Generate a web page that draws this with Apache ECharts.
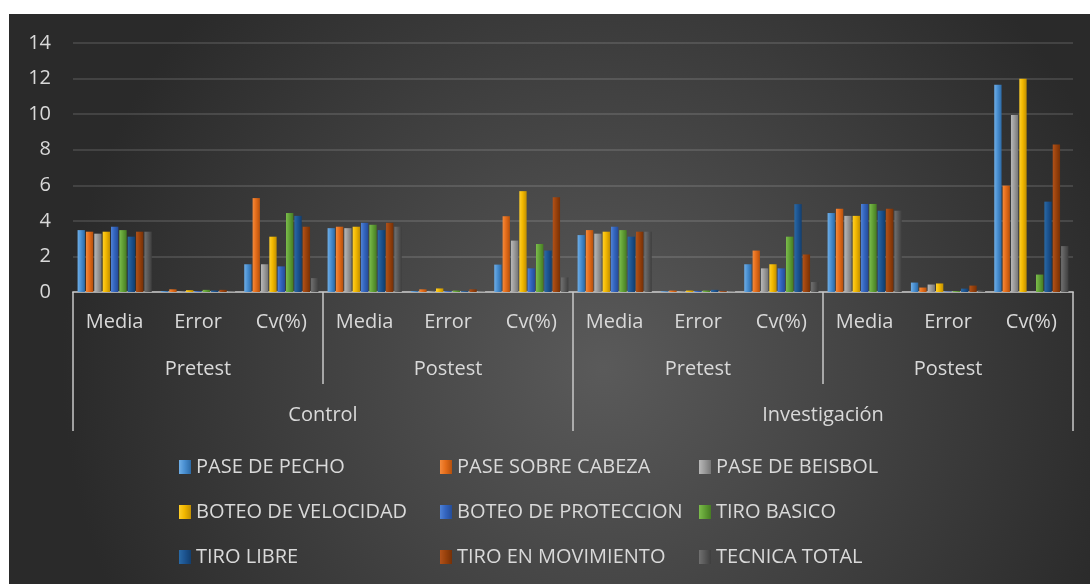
<!DOCTYPE html>
<html>
<head>
<meta charset="utf-8">
<script src="https://cdn.jsdelivr.net/npm/echarts@6/dist/echarts.min.js"></script>
<style>
  html, body { margin: 0; padding: 0; background: #fff; }
  #chart { position: absolute; left: 9px; top: 14px; width: 1081px; height: 570px; }
</style>
</head>
<body>
<div id="chart"></div>
<script>
// categories (three levels)
var categories = ['Media', 'Error', 'Cv(%)', 'Media', 'Error', 'Cv(%)', 'Media', 'Error', 'Cv(%)', 'Media', 'Error', 'Cv(%)'];
var phases = ['Pretest', 'Postest', 'Pretest', 'Postest'];
var groups = ['Control', 'Investigación'];

// series values
var pasePecho       = [3.48, 0.05, 1.56, 3.59, 0.05, 1.54, 3.20, 0.04, 1.56, 4.44, 0.53, 11.65];
var paseCabeza      = [3.39, 0.15, 5.28, 3.67, 0.15, 4.26, 3.48, 0.08, 2.33, 4.68, 0.25, 5.98];
var paseBeisbol     = [3.28, 0.05, 1.56, 3.59, 0.06, 2.89, 3.28, 0.05, 1.33, 4.28, 0.42, 9.95];
var boteoVelocidad  = [3.39, 0.10, 3.11, 3.67, 0.20, 5.67, 3.39, 0.08, 1.56, 4.28, 0.48, 11.99];
var boteoProteccion = [3.67, 0.05, 1.44, 3.89, 0.05, 1.33, 3.67, 0.06, 1.33, 4.95, 0.03, 0];
var tiroBasico      = [3.48, 0.12, 4.44, 3.78, 0.08, 2.70, 3.48, 0.08, 3.11, 4.95, 0.05, 0.98];
var tiroLibre       = [3.11, 0.08, 4.28, 3.48, 0.05, 2.33, 3.11, 0.12, 4.94, 4.57, 0.19, 5.08];
var tiroMovimiento  = [3.39, 0.12, 3.67, 3.89, 0.15, 5.33, 3.39, 0.05, 2.11, 4.68, 0.36, 8.30];
var tecnicaTotal    = [3.39, 0.03, 0.78, 3.67, 0.03, 0.82, 3.39, 0.03, 0.56, 4.57, 0.08, 2.58];

var yTicks = [0, 2, 4, 6, 8, 10, 12, 14];

var FONT = '"Open Sans", "Noto Sans", sans-serif';
var TXT = '#d9d9d9';

// bevel-ish fill: light edge on the left, dark on the right
function bevel(light, mid, dark) {
  return {
    type: 'linear', x: 0, y: 0, x2: 1, y2: 0,
    colorStops: [
      { offset: 0, color: light },
      { offset: 0.45, color: mid },
      { offset: 1, color: dark }
    ]
  };
}

var seriesDefs = [
  { name: 'PASE DE PECHO', data: pasePecho, c: bevel('#6faee6', '#4a90d2', '#2c6aa6') },
  { name: 'PASE SOBRE CABEZA', data: paseCabeza, c: bevel('#f48a3c', '#e56d1a', '#b5500c') },
  { name: 'PASE DE BEISBOL', data: paseBeisbol, c: bevel('#b8b8b8', '#9c9c9c', '#767676') },
  { name: 'BOTEO DE VELOCIDAD', data: boteoVelocidad, c: bevel('#ffcf2a', '#f2b800', '#c18f00') },
  { name: 'BOTEO DE PROTECCION', data: boteoProteccion, c: bevel('#4f82d6', '#3465bf', '#244c98') },
  { name: 'TIRO BASICO', data: tiroBasico, c: bevel('#7cbc4c', '#62a136', '#467c22') },
  { name: 'TIRO LIBRE', data: tiroLibre, c: bevel('#2a6aa6', '#1d5592', '#123e6e') },
  { name: 'TIRO EN MOVIMIENTO', data: tiroMovimiento, c: bevel('#b2521a', '#9a420c', '#763006') },
  { name: 'TECNICA TOTAL', data: tecnicaTotal, c: bevel('#707070', '#5a5a5a', '#3e3e3e') }
];

var chart = echarts.init(document.getElementById('chart'));

var series = seriesDefs.map(function (s) {
  return {
    name: s.name,
    type: 'bar',
    xAxisIndex: 0,
    data: s.data,
    barGap: '14%',
    barCategoryGap: '11%',
    itemStyle: { color: s.c },
    emphasis: { disabled: true }
  };
});

function legendCol(names, left) {
  return {
    orient: 'vertical',
    left: left,
    top: 437,
    itemWidth: 12,
    itemHeight: 14,
    itemGap: 23,
    icon: 'rect',
    data: names,
    textStyle: { color: TXT, fontSize: 20, fontFamily: FONT, lineHeight: 22 }
  };
}

var option = {
  backgroundColor: {
    type: 'radial', x: 0.55, y: 0.62, r: 0.95,
    colorStops: [
      { offset: 0, color: '#5a5a5a' },
      { offset: 1, color: '#2a2a2a' }
    ]
  },
  animation: false,
  grid: { left: 64, right: 17, top: 29, bottom: 292 },
  legend: [
    legendCol(['PASE DE PECHO', 'BOTEO DE VELOCIDAD', 'TIRO LIBRE'], 165),
    legendCol(['PASE SOBRE CABEZA', 'BOTEO DE PROTECCION', 'TIRO EN MOVIMIENTO'], 426),
    legendCol(['PASE DE BEISBOL', 'TIRO BASICO', 'TECNICA TOTAL'], 685)
  ],
  xAxis: [
    {
      type: 'category',
      data: categories,
      axisLine: { show: true, lineStyle: { color: 'rgba(200,200,200,0.75)', width: 2 } },
      axisTick: { show: false },
      axisLabel: { color: TXT, fontSize: 20, fontFamily: FONT, margin: 20, interval: 0 }
    },
    {
      type: 'category',
      data: phases,
      position: 'bottom',
      offset: 92,
      axisLine: { show: false },
      axisTick: { show: true, inside: true, length: 92, lineStyle: { color: 'rgba(200,200,200,0.75)', width: 2 } },
      axisLabel: { inside: true, color: TXT, fontSize: 20, fontFamily: FONT, margin: 5, interval: 0 }
    },
    {
      type: 'category',
      data: groups,
      position: 'bottom',
      offset: 139,
      axisLine: { show: false },
      axisTick: { show: true, inside: true, length: 139, lineStyle: { color: 'rgba(200,200,200,0.75)', width: 2 } },
      axisLabel: { inside: true, color: TXT, fontSize: 20, fontFamily: FONT, margin: 6, interval: 0 }
    }
  ],
  yAxis: {
    type: 'value',
    min: yTicks[0],
    max: yTicks[yTicks.length - 1],
    interval: 2,
    axisLine: { show: false },
    axisTick: { show: false },
    axisLabel: { color: TXT, fontSize: 20, fontFamily: FONT, margin: 22 },
    splitLine: { lineStyle: { color: 'rgba(255,255,255,0.12)', width: 2 } }
  },
  series: series
};

chart.setOption(option);
</script>
</body>
</html>
